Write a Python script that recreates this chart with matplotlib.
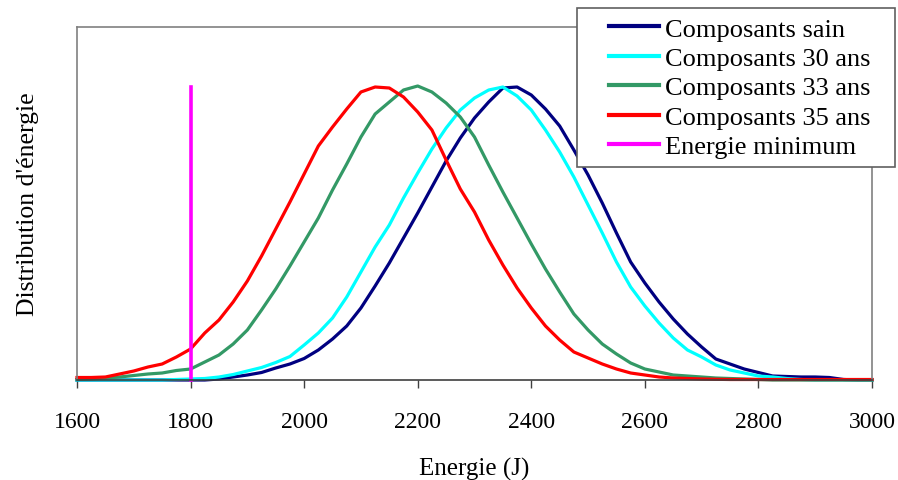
import numpy as np
import matplotlib
matplotlib.use("Agg")
import matplotlib.pyplot as plt
from matplotlib.patches import Rectangle

plt.rcParams['font.family'] = ['Liberation Serif', 'DejaVu Serif']

# Energy grid (J)
energie = np.arange(1600, 3001, 25)

# Energy distributions (arbitrary units)
sain = [0, 0, 0, 0, 0, 0, 0, 0, 0, 0, 1, 3, 5, 7.5, 12, 16, 21.5, 30, 41, 54,
        72, 94, 117, 142, 167, 193, 219, 242, 262, 278, 292, 293, 285, 271, 254,
        230, 205, 177, 147, 118, 97, 78, 61, 46, 33, 21, 16, 11, 7.5, 4,
        3.5, 3, 3, 2.5, 0.5, 0, 0]
ans30 = [0, 0, 0, 0, 0, 0, 0, 0.5, 1, 1.5, 3, 5.5, 9, 12.5, 17.5, 23.5, 35, 47, 62, 83,
         108, 133, 155, 182, 207, 231, 252, 270, 282, 290, 293, 284, 270, 250, 228,
         203, 175, 147, 118, 93, 74, 57, 42, 30, 23, 15, 10, 7, 4, 3,
         1.5, 0.5, 0, 0, 0, 0, 0]
ans33 = [0.5, 1, 2, 3, 4.5, 6, 7, 9.5, 11, 18, 25, 36, 50, 70, 91, 114, 138, 162, 190, 216,
         243, 266, 278, 290, 294, 288, 277, 263, 243, 215, 188, 162, 136, 111, 88,
         66, 50, 36, 26, 17, 11, 8, 5, 4, 3, 2, 1.5, 1, 0.5, 0,
         0, 0, 0, 0, 0, 0, 0]
ans35 = [2.5, 2.5, 3, 6, 9, 13, 16, 23, 31, 47, 60, 78, 99, 124, 151, 178, 206, 234, 253, 271,
         288, 293, 292, 283, 268, 250, 220, 191, 168, 140, 115, 92, 72, 54, 40,
         28, 22, 16, 11, 7, 5, 3, 2, 1.5, 1, 0.7, 0.5, 0.5, 0.5, 0.5,
         0.5, 0.5, 0.5, 0.5, 0.5, 0.5, 0.5]

# Minimum energy marker
energie_min = [1800, 1800]
energie_min_y = [0, 293]

labels = ["Composants sain", "Composants 30 ans", "Composants 33 ans",
          "Composants 35 ans", "Energie minimum"]
colors = ["#000080", "#00FFFF", "#339966", "#FF0000", "#FF00FF"]
xticks = [1600, 1800, 2000, 2200, 2400, 2600, 2800, 3000]

W, H = 898, 481
fig = plt.figure(figsize=(W / 100, H / 100), dpi=100)
ax = fig.add_axes([77 / W, 1 - 381 / H, (872 - 77) / W, (381 - 28) / H])

handles = []
for ys, c, lab in zip([sain, ans30, ans33, ans35], colors[:4], labels[:4]):
    ln, = ax.plot(energie, ys, color=c, lw=2.3, label=lab, clip_on=False,
                  solid_joinstyle='round')
    handles.append(ln)
ln, = ax.plot(energie_min, energie_min_y, color=colors[4], lw=2.6, label=labels[4],
              clip_on=False)
handles.append(ln)

ax.set_xlim(1600, 3000)
ax.set_ylim(0, 353)
ax.set_xticks(xticks)
ax.set_xticklabels([str(t) for t in xticks])
ax.set_yticks([])

for s in ['left', 'top', 'right']:
    ax.spines[s].set_color('#808080')
    ax.spines[s].set_linewidth(1.2)
ax.spines['bottom'].set_color('#404040')
ax.spines['bottom'].set_linewidth(1.2)
ax.tick_params(axis='x', direction='out', length=6, width=1, color='#404040',
               labelsize=17, pad=16)

ax.set_xlabel("Energie (J)", fontsize=18, labelpad=18)
ax.set_ylabel("Distribution d'énergie", fontsize=18.5, labelpad=27)

# Legend box
rect = Rectangle((577 / W, 1 - 168 / H), (895 - 577) / W, (168 - 9) / H,
                 transform=fig.transFigure, facecolor='white', edgecolor='#606060',
                 linewidth=1.2, zorder=3)
fig.patches.append(rect)

leg = fig.legend(handles, labels, loc='upper left',
                 bbox_to_anchor=(596 / W, 1 - 5 / H), bbox_transform=fig.transFigure,
                 frameon=False, borderpad=0, fontsize=19, handlelength=1.9,
                 handletextpad=0.2, labelspacing=0.225)
leg.set_zorder(4)
for l in leg.get_lines():
    l.set_linewidth(3)

fig.savefig("out.png", dpi=100)
